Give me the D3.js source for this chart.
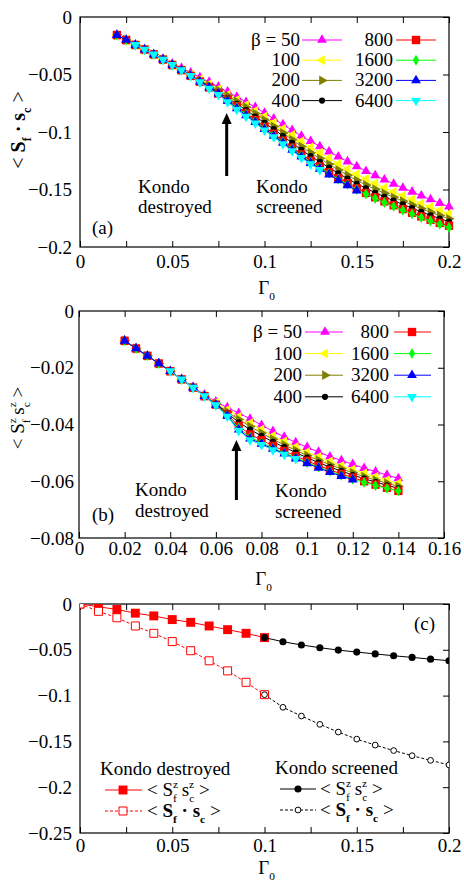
<!DOCTYPE html>
<html>
<head>
<meta charset="utf-8">
<script src="https://cdn.jsdelivr.net/npm/d3@7"></script>
<style>
body { margin: 0; background: #fff; }
svg text { font-family: "Liberation Serif", "DejaVu Serif", serif; }
</style>
</head>
<body>
<svg id="fig" width="464" height="882"></svg>
<script>
// ---- data ----
var betaLabels = ['β = 50', '100', '200', '400', '800', '1600', '3200', '6400'];
var betaColors = ['#ff00ff', '#ffff00', '#808000', '#000000', '#ff0000', '#00ff00', '#0000ff', '#00ffff'];
var betaMarks  = ['triUp', 'triLeft', 'triRight', 'circle', 'square', 'diamond', 'triUp', 'triDown'];

// panel (a): <Sf . sc> vs Gamma0
var gamA = [0.02,0.025,0.03,0.035,0.04,0.045,0.05,0.055,0.06,0.065,0.07,0.075,0.08,0.085,0.09,0.095,0.1,
            0.105,0.11,0.115,0.12,0.125,0.13,0.135,0.14,0.145,0.15,0.155,0.16,0.165,0.17,0.175,0.18,0.185,0.19,0.195,0.2];
var a50   = [-0.0157,-0.0200,-0.0243,-0.0283,-0.0325,-0.0365,-0.0407,-0.0444,-0.0485,-0.0525,-0.0565,-0.0607,-0.0650,-0.0695,-0.0740,-0.0785,-0.0835,-0.0885,-0.0935,-0.0985,-0.1035,-0.1080,-0.1125,-0.1170,-0.1215,-0.1257,-0.1300,-0.1340,-0.1378,-0.1415,-0.1451,-0.1486,-0.1520,-0.1554,-0.1587,-0.1618,-0.1650];
var a100  = [-0.0157,-0.0200,-0.0243,-0.0283,-0.0325,-0.0370,-0.0417,-0.0457,-0.0502,-0.0542,-0.0583,-0.0627,-0.0675,-0.0720,-0.0765,-0.0815,-0.0865,-0.0918,-0.0971,-0.1025,-0.1080,-0.1132,-0.1180,-0.1228,-0.1277,-0.1322,-0.1367,-0.1408,-0.1448,-0.1484,-0.1519,-0.1553,-0.1586,-0.1620,-0.1651,-0.1681,-0.1710];
var a200  = [-0.0157,-0.0200,-0.0243,-0.0283,-0.0325,-0.0370,-0.0417,-0.0462,-0.0507,-0.0552,-0.0593,-0.0637,-0.0685,-0.0735,-0.0785,-0.0840,-0.0895,-0.0952,-0.1009,-0.1067,-0.1125,-0.1180,-0.1230,-0.1280,-0.1330,-0.1375,-0.1420,-0.1460,-0.1498,-0.1533,-0.1568,-0.1602,-0.1634,-0.1667,-0.1698,-0.1726,-0.1755];
var a400  = [-0.0157,-0.0200,-0.0243,-0.0283,-0.0325,-0.0370,-0.0417,-0.0462,-0.0512,-0.0557,-0.0603,-0.0652,-0.0705,-0.0755,-0.0810,-0.0865,-0.0920,-0.0975,-0.1035,-0.1095,-0.1155,-0.1210,-0.1260,-0.1310,-0.1360,-0.1405,-0.1450,-0.1490,-0.1528,-0.1563,-0.1597,-0.1630,-0.1662,-0.1694,-0.1724,-0.1752,-0.1780];
var a800  = [-0.0157,-0.0200,-0.0243,-0.0283,-0.0325,-0.0370,-0.0417,-0.0462,-0.0512,-0.0562,-0.0613,-0.0667,-0.0720,-0.0775,-0.0835,-0.0895,-0.0955,-0.1015,-0.1075,-0.1135,-0.1195,-0.1250,-0.1300,-0.1350,-0.1400,-0.1445,-0.1490,-0.1530,-0.1568,-0.1603,-0.1637,-0.1670,-0.1702,-0.1734,-0.1763,-0.1790,-0.1815];
var a1600 = [-0.0157,-0.0200,-0.0243,-0.0283,-0.0325,-0.0370,-0.0417,-0.0462,-0.0512,-0.0562,-0.0613,-0.0667,-0.0725,-0.0785,-0.0845,-0.0905,-0.0965,-0.1025,-0.1085,-0.1145,-0.1205,-0.1260,-0.1310,-0.1360,-0.1410,-0.1455,-0.1500,-0.1540,-0.1578,-0.1613,-0.1647,-0.1680,-0.1712,-0.1744,-0.1774,-0.1802,-0.1830];
var a3200 = [-0.0157,-0.0200,-0.0243,-0.0283,-0.0325,-0.0370,-0.0417,-0.0462,-0.0512,-0.0562,-0.0613,-0.0667,-0.0730,-0.0795,-0.0855,-0.0915,-0.0975,-0.1035,-0.1095,-0.1155,-0.1215,-0.1270,-0.1320,-0.1370,-0.1420,-0.1465,-0.1510]; // 0.02 .. 0.15
var a6400 = [-0.0243,-0.0283,-0.0325,-0.0370,-0.0417,-0.0462,-0.0512,-0.0567,-0.0623,-0.0677,-0.0740,-0.0805,-0.0865,-0.0925,-0.0985,-0.1045,-0.1105,-0.1165,-0.1225,-0.1280,-0.1330]; // 0.03 .. 0.13

// panel (b): <Sz_f sz_c> vs Gamma0
var gamB = [0.02,0.025,0.03,0.035,0.04,0.045,0.05,0.055,0.06,0.065,0.07,0.075,0.08,0.085,0.09,0.095,0.1,
            0.105,0.11,0.115,0.12,0.125,0.13,0.135,0.14];
var b50   = [-0.0105,-0.0132,-0.0158,-0.0185,-0.0212,-0.0240,-0.0268,-0.0295,-0.0320,-0.0340,-0.0360,-0.0380,-0.0402,-0.0424,-0.0444,-0.0463,-0.0480,-0.0497,-0.0513,-0.0527,-0.0540,-0.0554,-0.0566,-0.0578,-0.0590];
var b100  = [-0.0105,-0.0132,-0.0158,-0.0185,-0.0212,-0.0241,-0.0270,-0.0298,-0.0323,-0.0348,-0.0372,-0.0395,-0.0417,-0.0440,-0.0460,-0.0479,-0.0497,-0.0514,-0.0530,-0.0545,-0.0558,-0.0572,-0.0584,-0.0596,-0.0607];
var b200  = [-0.0105,-0.0132,-0.0158,-0.0185,-0.0212,-0.0241,-0.0270,-0.0300,-0.0326,-0.0355,-0.0382,-0.0407,-0.0430,-0.0452,-0.0472,-0.0491,-0.0509,-0.0526,-0.0542,-0.0556,-0.0570,-0.0584,-0.0596,-0.0607,-0.0618];
var b400  = [-0.0105,-0.0132,-0.0158,-0.0185,-0.0212,-0.0241,-0.0270,-0.0300,-0.0328,-0.0360,-0.0392,-0.0418,-0.0440,-0.0461,-0.0480,-0.0499,-0.0517,-0.0534,-0.0550,-0.0564,-0.0578,-0.0591,-0.0603,-0.0614,-0.0625];
var b800  = [-0.0105,-0.0132,-0.0158,-0.0185,-0.0212,-0.0241,-0.0270,-0.0300,-0.0330,-0.0365,-0.0405,-0.0435,-0.0455,-0.0475,-0.0493,-0.0511,-0.0528,-0.0545,-0.0560,-0.0574,-0.0587,-0.0600,-0.0612,-0.0623,-0.0634];
var b1600 = [-0.0105,-0.0132,-0.0158,-0.0185,-0.0212,-0.0241,-0.0270,-0.0300,-0.0331,-0.0368,-0.0412,-0.0445,-0.0464,-0.0483,-0.0500,-0.0517,-0.0534,-0.0550,-0.0565,-0.0579,-0.0592,-0.0604,-0.0615,-0.0625,-0.0634];
var b3200 = [-0.0105,-0.0132,-0.0158,-0.0185,-0.0212,-0.0241,-0.0270,-0.0300,-0.0331,-0.0370,-0.0418,-0.0450,-0.0468,-0.0486,-0.0503,-0.0520,-0.0537,-0.0553,-0.0568,-0.0582,-0.0594]; // 0.02 .. 0.12
var b6400 = [-0.0212,-0.0241,-0.0270,-0.0300,-0.0332,-0.0372,-0.0422,-0.0455,-0.0472,-0.0490,-0.0506,-0.0521]; // 0.04 .. 0.095

// panel (c): beta -> infinity, destroyed / screened branches
var gamDest = [0,0.01,0.02,0.03,0.04,0.05,0.06,0.07,0.08,0.09,0.1];
var destSz  = [0,-0.003,-0.006,-0.010,-0.013,-0.017,-0.020,-0.024,-0.028,-0.032,-0.0367];
var destSS  = [0,-0.008,-0.015,-0.024,-0.032,-0.041,-0.051,-0.062,-0.073,-0.0855,-0.099];
var gamScr  = [0.1,0.11,0.12,0.13,0.14,0.15,0.16,0.17,0.18,0.19,0.2];
var scrSz   = [-0.0367,-0.0412,-0.0447,-0.0477,-0.0503,-0.0525,-0.0545,-0.0565,-0.0583,-0.0602,-0.0619];
var scrSS   = [-0.099,-0.1128,-0.1223,-0.1314,-0.1398,-0.1475,-0.154,-0.160,-0.1656,-0.1707,-0.1757];

var FONT = '"Liberation Serif", "DejaVu Serif", serif';
var FS = 19;
var svg = d3.select('#fig');

function fmt(v) {
    if (Math.abs(v) < 1e-9) return '0';
    var s = String(+v.toFixed(3));
    return s.replace('-', '\u2212');
}

function symbolPath(kind, size) {
    var type = d3.symbolTriangle;
    if (kind === 'square') type = d3.symbolSquare;
    if (kind === 'circle') type = d3.symbolCircle;
    if (kind === 'diamond') type = d3.symbolDiamond;
    return d3.symbol().type(type).size(size)();
}
function symbolRot(kind) {
    if (kind === 'triDown') return 180;
    if (kind === 'triLeft') return -90;
    if (kind === 'triRight') return 90;
    return 0;
}
var markSize = {triUp: 42, triDown: 42, triLeft: 42, triRight: 42, square: 70, circle: 30, diamond: 34};

// text with bold / sub / sup pieces
function addParts(txt, parts, fs) {
    var shift = 0;
    parts.forEach(function(p) {
        var t = txt.append('tspan').text(p.t);
        var k = p.k || 'n';
        var target = k === 'sup' ? -fs * 0.44 : (k === 'sub' ? fs * 0.3 : 0);
        t.attr('dy', target - shift);
        shift = target;
        if (k !== 'n') t.style('font-size', (fs * 0.6) + 'px');
        if (p.b) t.style('font-weight', 'bold');
        if (p.dx) t.attr('dx', p.dx);
    });
}
var partsDot = [{t: '< '}, {t: 'S', b: 1}, {t: 'f', k: 'sub', b: 1}, {t: ' \u00b7 ', b: 1}, {t: 's', b: 1}, {t: 'c', k: 'sub', b: 1}, {t: ' >'}];
var partsZ = [{t: '< S'}, {t: 'z', k: 'sup'}, {t: 'f', k: 'sub', dx: -5}, {t: ' s'}, {t: 'z', k: 'sup'}, {t: 'c', k: 'sub', dx: -5}, {t: ' >'}];

function styleText(sel, fs) {
    return sel.style('font-family', FONT).style('font-size', fs + 'px').style('fill', '#000');
}

function drawFrame(p) {
    var g = svg.append('g');
    // bottom axis, labels + inward ticks
    g.append('g')
        .attr('transform', 'translate(0,' + p.bottom + ')')
        .call(d3.axisBottom(p.x).tickValues(p.xTicks).tickSize(-6).tickPadding(p.xPad)
            .tickFormat(function(d) { return p.xLabelled(d) ? fmt(d) : ''; }));
    g.append('g')
        .attr('transform', 'translate(0,' + p.top + ')')
        .call(d3.axisTop(p.x).tickValues(p.xTicks).tickSize(-6).tickFormat(''));
    g.append('g')
        .attr('transform', 'translate(' + p.left + ',0)')
        .call(d3.axisLeft(p.y).tickValues(p.yTicks).tickSize(0).tickPadding(p.yPad).tickFormat(fmt));
    g.append('g')
        .attr('transform', 'translate(' + p.right + ',0)')
        .call(d3.axisRight(p.y).tickValues(p.yTicks).tickSize(-6).tickFormat(''));
    g.selectAll('.domain').remove();
    g.selectAll('.tick line').attr('stroke', '#000').attr('stroke-width', 1);
    styleText(g.selectAll('text'), FS);
    g.append('rect')
        .attr('x', p.left).attr('y', p.top)
        .attr('width', p.right - p.left).attr('height', p.bottom - p.top)
        .attr('fill', 'none').attr('stroke', '#000').attr('stroke-width', 1.2);
    // x axis title Gamma_0
    var gt = styleText(svg.append('text'), FS)
        .attr('x', (p.left + p.right) / 2 + 2).attr('y', p.gammaY)
        .attr('text-anchor', 'middle');
    addParts(gt, [{t: 'Γ'}, {t: '0', k: 'sub'}], FS);
}

function drawSeries(p, xs, ys, color, kind, opts) {
    opts = opts || {};
    var pts = xs.map(function(d, i) { return {x: d, y: ys[i]}; });
    var lineGen = d3.line()
        .x(function(d) { return p.x(d.x); })
        .y(function(d) { return p.y(d.y); });
    var g = svg.append('g').attr('clip-path', p.clip ? 'url(#' + p.clip + ')' : null);
    g.append('path')
        .attr('d', lineGen(pts))
        .style('fill', 'none')
        .style('stroke', color)
        .style('stroke-width', '1px')
        .attr('stroke-dasharray', opts.dash || null);
    g.selectAll('path.mk')
        .data(pts)
        .enter().append('path')
        .attr('class', 'mk')
        .attr('d', symbolPath(kind, opts.size || markSize[kind]))
        .attr('transform', function(d) {
            return 'translate(' + p.x(d.x) + ',' + p.y(d.y) + ') rotate(' + symbolRot(kind) + ')';
        })
        .style('fill', opts.open ? '#fff' : color)
        .style('stroke', opts.open ? color : 'none')
        .style('stroke-width', opts.open ? 1 : 0);
}

function legendEntry(lx, ly, x1, x2, color, kind, opts) {
    opts = opts || {};
    svg.append('line')
        .attr('x1', x1).attr('x2', x2).attr('y1', ly).attr('y2', ly)
        .style('stroke', color).style('stroke-width', '1px')
        .attr('stroke-dasharray', opts.dash || null);
    svg.append('path')
        .attr('d', symbolPath(kind, opts.size || markSize[kind]))
        .attr('transform', 'translate(' + lx + ',' + ly + ') rotate(' + symbolRot(kind) + ')')
        .style('fill', opts.open ? '#fff' : color)
        .style('stroke', opts.open ? color : 'none')
        .style('stroke-width', opts.open ? 1 : 0);
}

function plainText(x, y, s, anchor) {
    styleText(svg.append('text'), FS)
        .attr('x', x).attr('y', y)
        .attr('text-anchor', anchor || 'start')
        .text(s);
}

function arrow(x, yTail, yTip) {
    svg.append('line')
        .attr('x1', x).attr('x2', x).attr('y1', yTail).attr('y2', yTip + 8)
        .style('stroke', '#000').style('stroke-width', '3px');
    svg.append('path')
        .attr('d', 'M' + x + ',' + yTip + 'L' + (x - 5) + ',' + (yTip + 11) + 'L' + (x + 5) + ',' + (yTip + 11) + 'Z')
        .style('fill', '#000');
}

function drawBetaLegend(cols, y0, dy) {
    for (var i = 0; i < 8; i++) {
        var c = cols[Math.floor(i / 4)];
        var yy = y0 + (i % 4) * dy;
        plainText(c.text, yy + 6, betaLabels[i], 'end');
        legendEntry(c.mark, yy, c.x1, c.x2, betaColors[i], betaMarks[i]);
    }
}

// ---------- panel (a) ----------
function drawPanelA() {
    var p = {left: 80, right: 449, top: 17, bottom: 247, xPad: 8, yPad: 8, gammaY: 294};
    p.x = d3.scaleLinear().domain([0, 0.2]).range([p.left, p.right]);
    p.y = d3.scaleLinear().domain([-0.2, 0]).range([p.bottom, p.top]);
    p.xTicks = [0, 0.025, 0.05, 0.075, 0.1, 0.125, 0.15, 0.175, 0.2];
    p.xLabelled = function(d) { return Math.abs(d * 20 - Math.round(d * 20)) < 1e-6; };
    p.yTicks = [0, -0.05, -0.1, -0.15, -0.2];
    drawFrame(p);

    var series = [a50, a100, a200, a400, a800, a1600, a3200, a6400];
    var xsets = [gamA, gamA, gamA, gamA, gamA, gamA, gamA.slice(0, 27), gamA.slice(2, 23)];
    series.forEach(function(s, i) { drawSeries(p, xsets[i], s, betaColors[i], betaMarks[i]); });

    drawBetaLegend([{text: 300, x1: 302, x2: 342, mark: 322}, {text: 393, x1: 396, x2: 436, mark: 416}], 40, 20.2);

    arrow(p.x(0.0795), 176, 113);
    plainText(138, 193, 'Kondo');
    plainText(138, 213, 'destroyed');
    plainText(256, 193, 'Kondo');
    plainText(256, 213, 'screened');
    plainText(92, 234, '(a)');

    var yl = styleText(svg.append('text'), 20)
        .attr('transform', 'translate(25,130) rotate(-90)')
        .attr('text-anchor', 'middle');
    addParts(yl, partsDot, 20);
}

// ---------- panel (b) ----------
function drawPanelB() {
    var p = {left: 79, right: 444, top: 311, bottom: 538, xPad: 4, yPad: 5, gammaY: 585};
    p.x = d3.scaleLinear().domain([0, 0.16]).range([p.left, p.right]);
    p.y = d3.scaleLinear().domain([-0.08, 0]).range([p.bottom, p.top]);
    p.xTicks = [0, 0.02, 0.04, 0.06, 0.08, 0.1, 0.12, 0.14, 0.16];
    p.xLabelled = function() { return true; };
    p.yTicks = [0, -0.02, -0.04, -0.06, -0.08];
    drawFrame(p);

    var series = [b50, b100, b200, b400, b800, b1600, b3200, b6400];
    var xsets = [gamB, gamB, gamB, gamB, gamB, gamB, gamB.slice(0, 21), gamB.slice(4, 16)];
    series.forEach(function(s, i) { drawSeries(p, xsets[i], s, betaColors[i], betaMarks[i]); });

    drawBetaLegend([{text: 302, x1: 305, x2: 343, mark: 325}, {text: 389, x1: 394, x2: 431, mark: 412}], 332, 21.6);

    arrow(p.x(0.069), 500, 440);
    plainText(135, 496, 'Kondo');
    plainText(135, 517, 'destroyed');
    plainText(275, 497, 'Kondo');
    plainText(275, 518, 'screened');
    plainText(92, 521, '(b)');

    var yl = styleText(svg.append('text'), 19)
        .attr('transform', 'translate(24,418) rotate(-90)')
        .attr('text-anchor', 'middle');
    addParts(yl, partsZ, 19);
}

// ---------- panel (c) ----------
function drawPanelC() {
    var p = {left: 80, right: 449, top: 604, bottom: 833, xPad: 6, yPad: 8, gammaY: 874, clip: 'clipC'};
    p.x = d3.scaleLinear().domain([0, 0.2]).range([p.left, p.right]);
    p.y = d3.scaleLinear().domain([-0.25, 0]).range([p.bottom, p.top]);
    p.xTicks = [0, 0.025, 0.05, 0.075, 0.1, 0.125, 0.15, 0.175, 0.2];
    p.xLabelled = function(d) { return Math.abs(d * 20 - Math.round(d * 20)) < 1e-6; };
    p.yTicks = [0, -0.05, -0.1, -0.15, -0.2, -0.25];
    svg.append('clipPath').attr('id', 'clipC')
        .append('rect').attr('x', p.left).attr('y', p.top)
        .attr('width', p.right - p.left).attr('height', p.bottom - p.top);
    drawFrame(p);

    drawSeries(p, gamDest, destSz, '#ff0000', 'square', {size: 80});
    drawSeries(p, gamDest, destSS, '#ff0000', 'square', {size: 64, open: true, dash: '3,2'});
    drawSeries(p, gamScr, scrSz, '#000000', 'circle', {size: 40});
    drawSeries(p, gamScr, scrSS, '#000000', 'circle', {size: 26, open: true, dash: '3,2'});

    plainText(414, 630, '(c)');

    // legends
    plainText(100, 775, 'Kondo destroyed');
    legendEntry(123, 790, 105, 142, '#ff0000', 'square', {size: 80});
    legendEntry(123, 811, 105, 142, '#ff0000', 'square', {size: 64, open: true, dash: '3,2'});
    var t1 = styleText(svg.append('text'), FS).attr('x', 147).attr('y', 796);
    addParts(t1, partsZ, FS);
    var t2 = styleText(svg.append('text'), FS).attr('x', 147).attr('y', 817);
    addParts(t2, partsDot, FS);

    plainText(275, 774, 'Kondo screened');
    legendEntry(298, 789, 280, 316, '#000000', 'circle', {size: 40});
    legendEntry(298, 810, 280, 316, '#000000', 'circle', {size: 26, open: true, dash: '3,2'});
    var t3 = styleText(svg.append('text'), FS).attr('x', 320).attr('y', 795);
    addParts(t3, partsZ, FS);
    var t4 = styleText(svg.append('text'), FS).attr('x', 320).attr('y', 816);
    addParts(t4, partsDot, FS);
}

drawPanelA();
drawPanelB();
drawPanelC();
</script>
</body>
</html>
